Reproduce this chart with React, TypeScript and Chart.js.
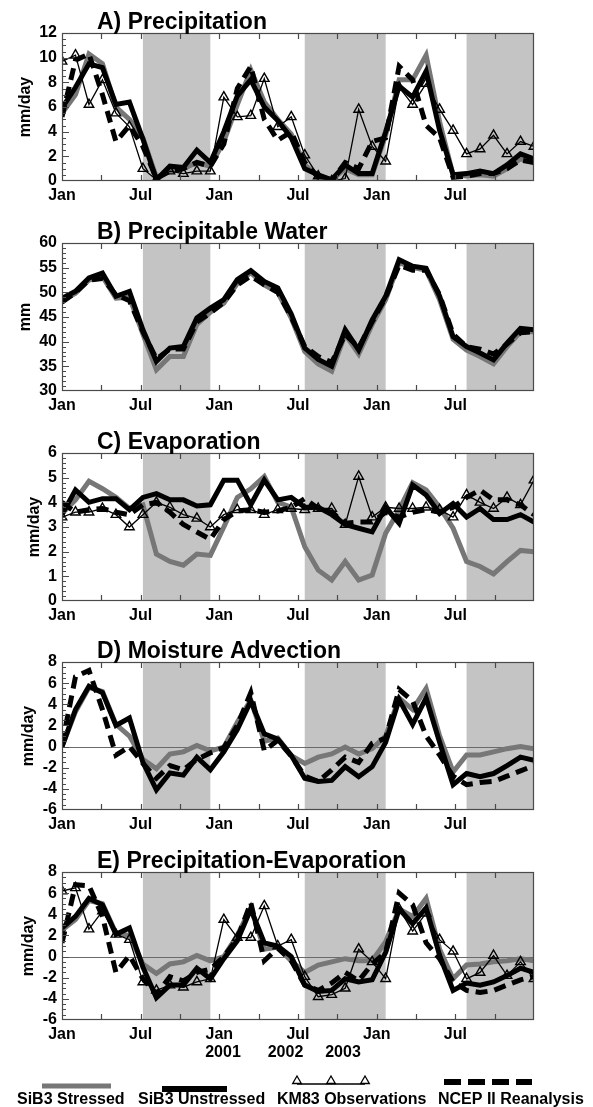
import React, { useEffect, useRef } from "react";
import { Chart, registerables } from "chart.js";

Chart.register(...registerables);

const FONT = '"Liberation Sans", Arial, Helvetica, sans-serif';
const GRAY_LINE = "#777777";
const SHADE = "#c4c4c4";
const FRAME = "#4a4a4a";

// ---------------- x axis ----------------
const monthIndex = [
  0, 1, 2, 3, 4, 5, 6, 7, 8, 9, 10, 11, 12, 13, 14, 15, 16, 17,
  18, 19, 20, 21, 22, 23, 24, 25, 26, 27, 28, 29, 30, 31, 32, 33, 34, 35,
];
const xTickMonths = [0, 6, 12, 18, 24, 30];
const xTickLabels = ["Jan", "Jul", "Jan", "Jul", "Jan", "Jul"];
const yearLabels = ["2001", "2002", "2003"];
const dryShading = [
  [6, 11],
  [18, 24],
  [30, 35],
];

// ---------------- A) Precipitation ----------------
const precipStressed = [5.5, 7.0, 10.3, 9.5, 6.0, 5.0, 3.5, 0.3, 0.8, 1.0, 1.5, 1.2, 3.2, 6.2, 9.0, 6.4, 5.0, 3.8, 1.3, 0.4, 0.1, 1.0, 0.5, 0.5, 3.7, 8.2, 8.2, 10.2, 4.8, 0.5, 0.4, 0.5, 0.4, 1.0, 1.8, 1.5];
const precipUnstressed = [5.9, 7.6, 9.5, 9.2, 6.2, 6.4, 3.4, 0.1, 1.2, 1.1, 2.5, 1.5, 4.0, 6.9, 8.2, 6.0, 4.9, 3.5, 1.0, 0.5, 0.1, 1.3, 0.6, 0.6, 4.0, 7.7, 6.8, 8.9, 4.1, 0.5, 0.6, 0.8, 0.6, 1.3, 2.2, 1.8];
const precipNcep = [5.2, 9.8, 10.3, 7.0, 3.2, 4.5, 2.8, 0.2, 0.8, 1.0, 1.5, 1.2, 3.0, 7.5, 9.3, 5.0, 3.3, 4.0, 1.5, 0.3, 0.0, 1.5, 1.0, 3.2, 3.5, 9.3, 8.2, 4.5, 3.5, 0.3, 0.4, 0.6, 0.6, 1.0, 1.7, 1.5];
const precipObs = [9.7, 10.2, 6.2, 8.2, 5.5, 4.4, 1.0, 0.1, 0.8, 0.6, 0.8, 0.8, 6.8, 5.2, 5.3, 8.3, 4.4, 5.2, 2.1, 0.4, 0.0, 0.2, 5.8, 2.8, 1.6, 7.6, 6.2, 7.9, 5.8, 4.1, 2.2, 2.6, 3.7, 2.2, 3.2, 2.8];

// ---------------- B) Precipitable Water ----------------
const pwStressed = [48.3, 49.8, 52.5, 53.2, 48.8, 49.0, 41.5, 34.3, 37.0, 37.0, 43.5, 46.0, 47.8, 51.8, 54.0, 51.5, 50.0, 44.8, 38.0, 35.5, 34.0, 41.5, 37.5, 43.5, 48.5, 56.0, 55.0, 54.5, 48.5, 40.5, 38.3, 37.0, 35.5, 39.0, 42.0, 42.0];
const pwUnstressed = [48.8, 50.2, 52.9, 53.9, 49.2, 50.2, 42.4, 36.0, 38.7, 39.0, 44.8, 46.8, 48.5, 52.6, 54.4, 52.2, 50.9, 45.6, 38.7, 36.4, 35.0, 42.4, 38.3, 44.4, 49.2, 56.6, 55.3, 54.9, 49.2, 41.0, 39.0, 37.7, 36.3, 39.7, 42.7, 42.4];
const pwNcep = [48.0, 50.0, 52.5, 52.8, 49.5, 48.3, 42.0, 36.5, 38.5, 38.5, 44.0, 45.8, 48.0, 51.5, 53.3, 51.5, 50.0, 45.0, 39.0, 37.0, 35.8, 41.5, 38.8, 44.0, 49.0, 55.5, 54.5, 54.5, 49.5, 41.5, 39.0, 38.5, 37.5, 39.5, 41.8, 42.0];

// ---------------- C) Evaporation ----------------
const evapStressed = [3.55, 4.1, 4.85, 4.55, 4.2, 3.75, 3.9, 1.9, 1.6, 1.45, 1.9, 1.85, 3.0, 4.2, 4.55, 5.05, 4.0, 3.8, 2.2, 1.25, 0.85, 1.6, 0.85, 1.05, 2.75, 3.7, 4.8, 4.5, 3.8, 2.95, 1.6, 1.4, 1.1, 1.6, 2.05, 2.0];
const evapUnstressed = [3.5, 4.5, 4.0, 4.15, 4.15, 3.7, 4.2, 4.35, 4.1, 4.1, 3.85, 3.9, 4.9, 4.9, 3.9, 4.9, 4.1, 4.2, 3.8, 3.8, 3.5, 3.1, 2.95, 2.8, 3.8, 3.15, 4.7, 4.3, 3.55, 3.95, 3.4, 3.75, 3.3, 3.3, 3.5, 3.2];
const evapNcep = [4.0, 3.6, 3.7, 3.75, 3.6, 3.5, 3.9, 4.0, 3.6, 3.1, 2.8, 2.5, 3.3, 3.65, 3.7, 3.6, 3.65, 3.8, 4.15, 3.75, 3.6, 3.15, 3.2, 3.2, 3.6, 3.4, 3.6, 3.7, 3.6, 3.8, 4.2, 4.5, 4.1, 4.1, 3.9, 3.5];
const evapObs = [3.4, 3.6, 3.6, 3.75, 3.5, 3.0, 3.5, 4.0, 3.8, 3.5, 3.35, 3.0, 3.5, 3.7, 3.7, 3.5, 3.7, 3.75, 3.7, 3.75, 3.75, 3.1, 5.05, 3.4, 3.8, 3.75, 3.75, 3.8, 3.7, 3.4, 4.3, 4.0, 3.75, 4.2, 3.9, 4.9];

// ---------------- D) Moisture Advection ----------------
const advStressed = [0.0, 3.3, 5.6, 5.2, 2.1, 1.0, -1.2, -2.1, -0.7, -0.5, 0.1, -0.4, -0.05, 2.3, 4.4, 0.5, 0.8, -0.85, -1.6, -1.0, -0.7, -0.05, -0.7, -0.2, 1.0, 4.6, 3.5, 5.5, 1.0, -2.4, -0.8, -0.8, -0.5, -0.2, 0.0, -0.2];
const advUnstressed = [0.0, 3.5, 5.7, 5.1, 2.0, 2.7, -1.5, -4.1, -2.5, -2.7, -1.0, -2.2, -0.5, 1.6, 4.3, 1.2, 0.7, -0.85, -3.0, -3.3, -3.2, -1.9, -2.85, -1.9, 0.4, 4.45, 2.1, 4.6, 0.4, -3.6, -2.55, -2.85, -2.55, -1.8, -1.0, -1.3];
const advNcep = [0.2, 6.6, 7.2, 3.5, -0.8, 0.0, -1.6, -3.0, -1.8, -2.2, -1.2, -0.6, -0.1, 2.0, 5.1, -0.4, 0.6, -0.9, -2.8, -3.3, -2.2, -1.0, -1.5, 0.3, 0.8, 5.4, 4.3, 1.0, -0.8, -2.8, -3.6, -3.4, -3.3, -2.8, -2.3, -1.8];

// ---------------- E) Precipitation-Evaporation ----------------
const peStressed = [2.5, 3.5, 5.3, 5.0, 2.2, 2.0, -0.7, -1.6, -0.7, -0.5, 0.1, -0.4, 0.0, 2.0, 4.6, 0.7, 0.9, -0.4, -1.5, -0.8, -0.5, -0.2, -0.4, -0.4, 1.4, 4.5, 3.8, 5.5, 0.7, -2.1, -0.8, -0.7, -0.5, -0.4, -0.2, -0.4];
const peUnstressed = [2.7, 3.8, 5.5, 4.9, 2.1, 2.7, -1.0, -3.9, -2.7, -2.7, -1.1, -2.1, -0.2, 1.5, 4.5, 1.3, 1.0, 0.0, -2.7, -3.3, -3.2, -2.1, -2.4, -2.2, 0.4, 4.5, 3.1, 4.6, 0.1, -3.2, -2.5, -2.7, -2.4, -1.8, -1.1, -1.5];
const peNcep = [1.3, 6.8, 6.7, 3.8, -1.5, 0.1, -2.1, -3.6, -1.9, -2.3, -1.5, -1.2, 0.0, 1.7, 5.1, -0.4, 0.8, -0.4, -2.7, -3.2, -2.5, -1.5, -2.3, -0.7, 0.4, 6.0, 4.9, 1.3, -0.2, -2.4, -3.2, -3.4, -3.2, -2.7, -2.2, -1.9];
const peObs = [6.2, 6.5, 2.6, 4.3, 2.1, 1.6, -2.4, -3.2, -2.7, -2.9, -2.4, -2.1, 3.5, 1.8, 1.8, 4.8, 1.0, 1.6, -1.9, -3.8, -3.6, -3.0, 0.7, -0.5, -2.1, 4.5, 2.4, 4.1, 1.6, 0.5, -2.1, -1.5, 0.1, -1.8, -0.5, -2.1];

const legendLabels = ["SiB3 Stressed", "SiB3 Unstressed", "KM83 Observations", "NCEP II Reanalysis"];

type Panel = {
  title: string;
  yTitle: string;
  min: number;
  max: number;
  step: number;
  minor: number;
  zero: boolean;
  stressed: number[];
  unstressed: number[];
  ncep: number[];
  obs: number[] | null;
  top: number;
  height: number;
  padTop: number;
  padBottom: number;
  last: boolean;
};

const panels: Panel[] = [
  { title: "A) Precipitation", yTitle: "mm/day", min: 0, max: 12, step: 2, minor: 0.5, zero: false, stressed: precipStressed, unstressed: precipUnstressed, ncep: precipNcep, obs: precipObs, top: 0, height: 210, padTop: 33, padBottom: 0, last: false },
  { title: "B) Precipitable Water", yTitle: "mm", min: 30, max: 60, step: 5, minor: 1, zero: false, stressed: pwStressed, unstressed: pwUnstressed, ncep: pwNcep, obs: null, top: 210, height: 210, padTop: 33, padBottom: 0, last: false },
  { title: "C) Evaporation", yTitle: "mm/day", min: 0, max: 6, step: 1, minor: 0.2, zero: false, stressed: evapStressed, unstressed: evapUnstressed, ncep: evapNcep, obs: evapObs, top: 420, height: 210, padTop: 33, padBottom: 0, last: false },
  { title: "D) Moisture Advection", yTitle: "mm/day", min: -6, max: 8, step: 2, minor: 0.5, zero: true, stressed: advStressed, unstressed: advUnstressed, ncep: advNcep, obs: null, top: 630, height: 209, padTop: 32, padBottom: 0, last: false },
  { title: "E) Precipitation-Evaporation", yTitle: "mm/day", min: -6, max: 8, step: 2, minor: 0.5, zero: true, stressed: peStressed, unstressed: peUnstressed, ncep: peNcep, obs: peObs, top: 839, height: 268, padTop: 33, padBottom: 58, last: true },
];

function triangle(ctx: CanvasRenderingContext2D, x: number, y: number, r: number) {
  let rad = 0;
  ctx.beginPath();
  ctx.moveTo(x + Math.sin(rad) * r, y - Math.cos(rad) * r);
  rad += (2 * Math.PI) / 3;
  ctx.lineTo(x + Math.sin(rad) * r, y - Math.cos(rad) * r);
  rad += (2 * Math.PI) / 3;
  ctx.lineTo(x + Math.sin(rad) * r, y - Math.cos(rad) * r);
  ctx.closePath();
  ctx.stroke();
}

function makePlugin(p: Panel) {
  return {
    id: "panelDecor",
    beforeDatasetsDraw(chart: any) {
      const { ctx, chartArea: a, scales } = chart;
      const x = scales.x;
      const y = scales.y;
      ctx.save();
      ctx.fillStyle = SHADE;
      for (const [s, e] of dryShading) {
        const x0 = x.getPixelForValue(s);
        const x1 = x.getPixelForValue(e);
        ctx.fillRect(x0, a.top, x1 - x0, a.bottom - a.top);
      }
      if (p.zero) {
        const y0 = Math.round(y.getPixelForValue(0)) + 0.5;
        ctx.strokeStyle = "#6a6a6a";
        ctx.lineWidth = 1.2;
        ctx.beginPath();
        ctx.moveTo(a.left, y0);
        ctx.lineTo(a.right, y0);
        ctx.stroke();
      }
      ctx.restore();
    },
    afterDatasetsDraw(chart: any) {
      const { ctx, chartArea: a, scales } = chart;
      const x = scales.x;
      const y = scales.y;
      ctx.save();
      // frame
      ctx.strokeStyle = FRAME;
      ctx.lineWidth = 1.2;
      ctx.strokeRect(a.left + 0.5, a.top + 0.5, a.right - a.left - 1, a.bottom - a.top - 1);
      // x ticks every 3 months, top and bottom, inward
      ctx.beginPath();
      for (let m = 3; m < 36; m += 3) {
        const px = Math.round(x.getPixelForValue((m * 35) / 36)) + 0.5;
        ctx.moveTo(px, a.bottom);
        ctx.lineTo(px, a.bottom - 6);
        ctx.moveTo(px, a.top);
        ctx.lineTo(px, a.top + 6);
      }
      // y ticks (major + minor) on left
      const nMinor = Math.round((p.max - p.min) / p.minor);
      const perMajor = Math.round(p.step / p.minor);
      for (let k = 1; k < nMinor; k++) {
        const v = p.min + k * p.minor;
        const py = Math.round(y.getPixelForValue(v)) + 0.5;
        const len = k % perMajor === 0 ? 7 : 4;
        ctx.moveTo(a.left, py);
        ctx.lineTo(a.left + len, py);
      }
      ctx.stroke();

      // title
      ctx.fillStyle = "#000";
      ctx.font = `bold 23px ${FONT}`;
      ctx.textAlign = "left";
      ctx.textBaseline = "alphabetic";
      ctx.fillText(p.title, 97, a.top - 4);

      // y title
      ctx.font = `bold 16px ${FONT}`;
      let maxW = 0;
      for (let v = p.min; v <= p.max + 1e-9; v += p.step) {
        maxW = Math.max(maxW, ctx.measureText(String(v)).width);
      }
      const cx = a.left - 5 - maxW - 14;
      ctx.save();
      ctx.translate(cx, (a.top + a.bottom) / 2);
      ctx.rotate(-Math.PI / 2);
      ctx.textAlign = "center";
      ctx.textBaseline = "middle";
      ctx.fillText(p.yTitle, 0, 0);
      ctx.restore();

      if (p.last) {
        const base = p.top;
        // year labels
        ctx.font = `bold 16px ${FONT}`;
        ctx.textAlign = "center";
        ctx.textBaseline = "middle";
        const yearX = [223, 285.5, 343];
        yearLabels.forEach((t, i) => ctx.fillText(t, yearX[i], 1053 - base));

        // legend
        ctx.lineCap = "butt";
        ctx.strokeStyle = GRAY_LINE;
        ctx.lineWidth = 5;
        ctx.beginPath();
        ctx.moveTo(42, 1086 - base);
        ctx.lineTo(111, 1086 - base);
        ctx.stroke();

        ctx.strokeStyle = "#000";
        ctx.lineWidth = 6;
        ctx.beginPath();
        ctx.moveTo(162, 1089 - base);
        ctx.lineTo(227, 1089 - base);
        ctx.stroke();

        ctx.lineWidth = 1.3;
        ctx.beginPath();
        ctx.moveTo(297, 1084 - base);
        ctx.lineTo(365, 1084 - base);
        ctx.stroke();
        [297, 331, 365].forEach((tx) => triangle(ctx, tx, 1081 - base, 5));

        ctx.lineWidth = 6;
        ctx.setLineDash([17, 7]);
        ctx.beginPath();
        ctx.moveTo(444, 1082 - base);
        ctx.lineTo(532, 1082 - base);
        ctx.stroke();
        ctx.setLineDash([]);

        ctx.fillStyle = "#000";
        ctx.textAlign = "left";
        ctx.textBaseline = "middle";
        const lx = [17, 138, 277, 438];
        legendLabels.forEach((t, i) => ctx.fillText(t, lx[i], 1100 - base));
      }
      ctx.restore();
    },
  };
}

function PanelChart({ p }: { p: Panel }) {
  const ref = useRef<HTMLCanvasElement | null>(null);
  useEffect(() => {
    if (!ref.current) return;
    const toXY = (arr: number[]) => arr.map((v, i) => ({ x: monthIndex[i], y: v }));
    const datasets: any[] = [];
    if (p.obs) {
      datasets.push({
        data: toXY(p.obs),
        borderColor: "#000",
        borderWidth: 1.3,
        pointStyle: "triangle",
        pointRadius: 5.5,
        pointBorderWidth: 1.4,
        pointBorderColor: "#000",
        pointBackgroundColor: "rgba(0,0,0,0)",
        tension: 0,
        fill: false,
      });
    }
    datasets.push({
      data: toXY(p.ncep),
      borderColor: "#000",
      borderWidth: 5,
      borderDash: [12, 7],
      pointRadius: 0,
      tension: 0,
      fill: false,
    });
    datasets.push({
      data: toXY(p.unstressed),
      borderColor: "#000",
      borderWidth: 5,
      pointRadius: 0,
      tension: 0,
      fill: false,
    });
    datasets.push({
      data: toXY(p.stressed),
      borderColor: GRAY_LINE,
      borderWidth: 5,
      pointRadius: 0,
      tension: 0,
      fill: false,
    });

    const tickFont = { family: FONT, size: 16, weight: "bold" as const };
    const chart = new Chart(ref.current, {
      type: "line",
      data: { datasets },
      options: {
        responsive: false,
        animation: false,
        devicePixelRatio: 1,
        events: [],
        layout: { padding: { top: p.padTop, bottom: p.padBottom, left: 0, right: 59 } },
        plugins: {
          legend: { display: false },
          tooltip: { enabled: false },
          title: { display: false },
        },
        scales: {
          x: {
            type: "linear",
            min: 0,
            max: 35,
            grid: { display: false, drawTicks: false },
            border: { display: false },
            afterFit: (s: any) => {
              s.height = 29;
            },
            afterBuildTicks: (s: any) => {
              s.ticks = xTickMonths.map((m) => ({ value: (m * 35) / 36 }));
            },
            ticks: {
              autoSkip: false,
              maxRotation: 0,
              minRotation: 0,
              padding: 5,
              color: "#000",
              font: tickFont,
              callback: (_v: any, i: number) => xTickLabels[i],
            },
          },
          y: {
            type: "linear",
            min: p.min,
            max: p.max,
            grid: { display: false, drawTicks: false },
            border: { display: false },
            afterFit: (s: any) => {
              s.width = 62;
            },
            ticks: {
              stepSize: p.step,
              autoSkip: false,
              maxTicksLimit: 20,
              padding: 5,
              color: "#000",
              font: tickFont,
            },
          },
        },
      },
      plugins: [makePlugin(p)],
    } as any);
    return () => chart.destroy();
  }, [p]);
  return (
    <canvas
      ref={ref}
      width={593}
      height={p.height}
      style={{ position: "absolute", left: 0, top: p.top, width: 593, height: p.height }}
    />
  );
}

export default function App() {
  return (
    <div style={{ position: "absolute", left: 0, top: 0, width: 593, height: 1107, background: "#fff" }}>
      {panels.map((p) => (
        <PanelChart key={p.title} p={p} />
      ))}
    </div>
  );
}
